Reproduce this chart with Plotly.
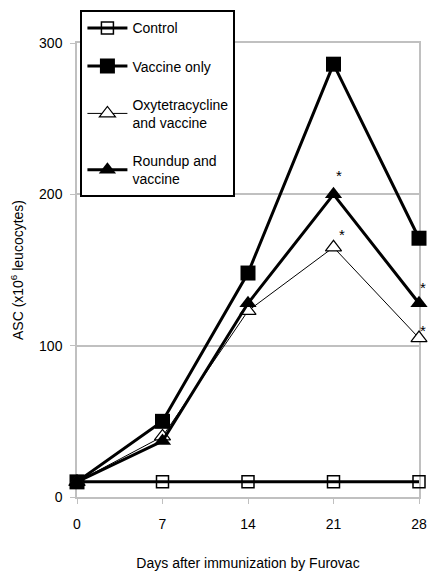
import plotly.graph_objects as go

# Days after immunization
days = [0, 7, 14, 21, 28]

# Antibody-secreting cells (x10^6 leucocytes)
control = [10, 10, 10, 10, 10]
vaccine_only = [10, 50, 148, 286, 171]
oxytetracycline_vaccine = [10, 40, 123, 165, 105]
roundup_vaccine = [10, 37, 128, 200, 128]

# Day indices flagged as significantly different
sig_idx = [3, 4]

y_ticks = [0, 100, 200, 300]
x_ticks = [0, 7, 14, 21, 28]

FONT = "Liberation Sans"

fig = go.Figure()

fig.add_trace(go.Scatter(
    x=days, y=control, name="Control", mode="lines+markers",
    line=dict(color="black", width=3),
    marker=dict(symbol="square-open", size=12, color="black", line=dict(width=1.5)),
    cliponaxis=False, legendgroup="a",
))
fig.add_trace(go.Scatter(
    x=days, y=vaccine_only, name="Vaccine only", mode="lines+markers",
    line=dict(color="black", width=3),
    marker=dict(symbol="square", size=15, color="black"),
    cliponaxis=False, legendgroup="b",
))
fig.add_trace(go.Scatter(
    x=days, y=oxytetracycline_vaccine, name="Oxytetracycline<br>and vaccine",
    mode="lines+markers",
    line=dict(color="black", width=1),
    marker=dict(symbol="triangle-up", size=14, color="white",
                line=dict(color="black", width=1.2)),
    cliponaxis=False, legendgroup="c",
))
fig.add_trace(go.Scatter(
    x=days, y=roundup_vaccine, name="Roundup and<br>vaccine", mode="lines+markers",
    line=dict(color="black", width=3),
    marker=dict(symbol="triangle-up", size=15, color="black"),
    cliponaxis=False, legendgroup="d",
))

# Asterisks marking significant differences
star_font = dict(size=15, color="black", family=FONT)
roundup_shift = {3: (5, 19), 4: (4, 16)}
oxy_shift = {3: (8, 13), 4: (4, 8)}
for i in sig_idx:
    dx, dy = roundup_shift[i]
    fig.add_annotation(x=days[i], y=roundup_vaccine[i], text="*", showarrow=False,
                       xshift=dx, yshift=dy, font=star_font)
    dx, dy = oxy_shift[i]
    fig.add_annotation(x=days[i], y=oxytetracycline_vaccine[i], text="*", showarrow=False,
                       xshift=dx, yshift=dy, font=star_font)

fig.update_layout(
    width=428, height=572,
    margin=dict(l=77, r=9, t=43, b=75),
    plot_bgcolor="white", paper_bgcolor="white",
    font=dict(family=FONT, size=14, color="black"),
    showlegend=True,
    legend=dict(
        x=0.01, y=1.072, xanchor="left", yanchor="top",
        bgcolor="white", bordercolor="black", borderwidth=2,
        font=dict(family=FONT, size=14, color="black"),
        tracegroupgap=17, itemwidth=40,
    ),
    xaxis=dict(
        range=[0, 28], tickvals=x_ticks, ticktext=[str(v) for v in x_ticks],
        showgrid=False, zeroline=False, layer="below traces", automargin=False,
        showline=True, linecolor="#c0c0c0", linewidth=1.5, mirror=True,
        ticks="outside", ticklen=5, tickcolor="#c0c0c0", ticklabelstandoff=8,
        title=dict(text="Days after immunization by Furovac", standoff=28,
                   font=dict(size=14)),
    ),
    yaxis=dict(
        range=[0, 300], tickvals=y_ticks, layer="below traces", automargin=False,
        showgrid=True, gridcolor="#c0c0c0", gridwidth=1.5, zeroline=False,
        showline=True, linecolor="#c0c0c0", linewidth=1.5, mirror=True,
        ticks="outside", ticklen=5, tickcolor="#c0c0c0", ticklabelstandoff=5,
        title=dict(text="ASC (x10<sup>6</sup> leucocytes)", standoff=12,
                   font=dict(size=14)),
    ),
)

fig.write_html("out.html")
